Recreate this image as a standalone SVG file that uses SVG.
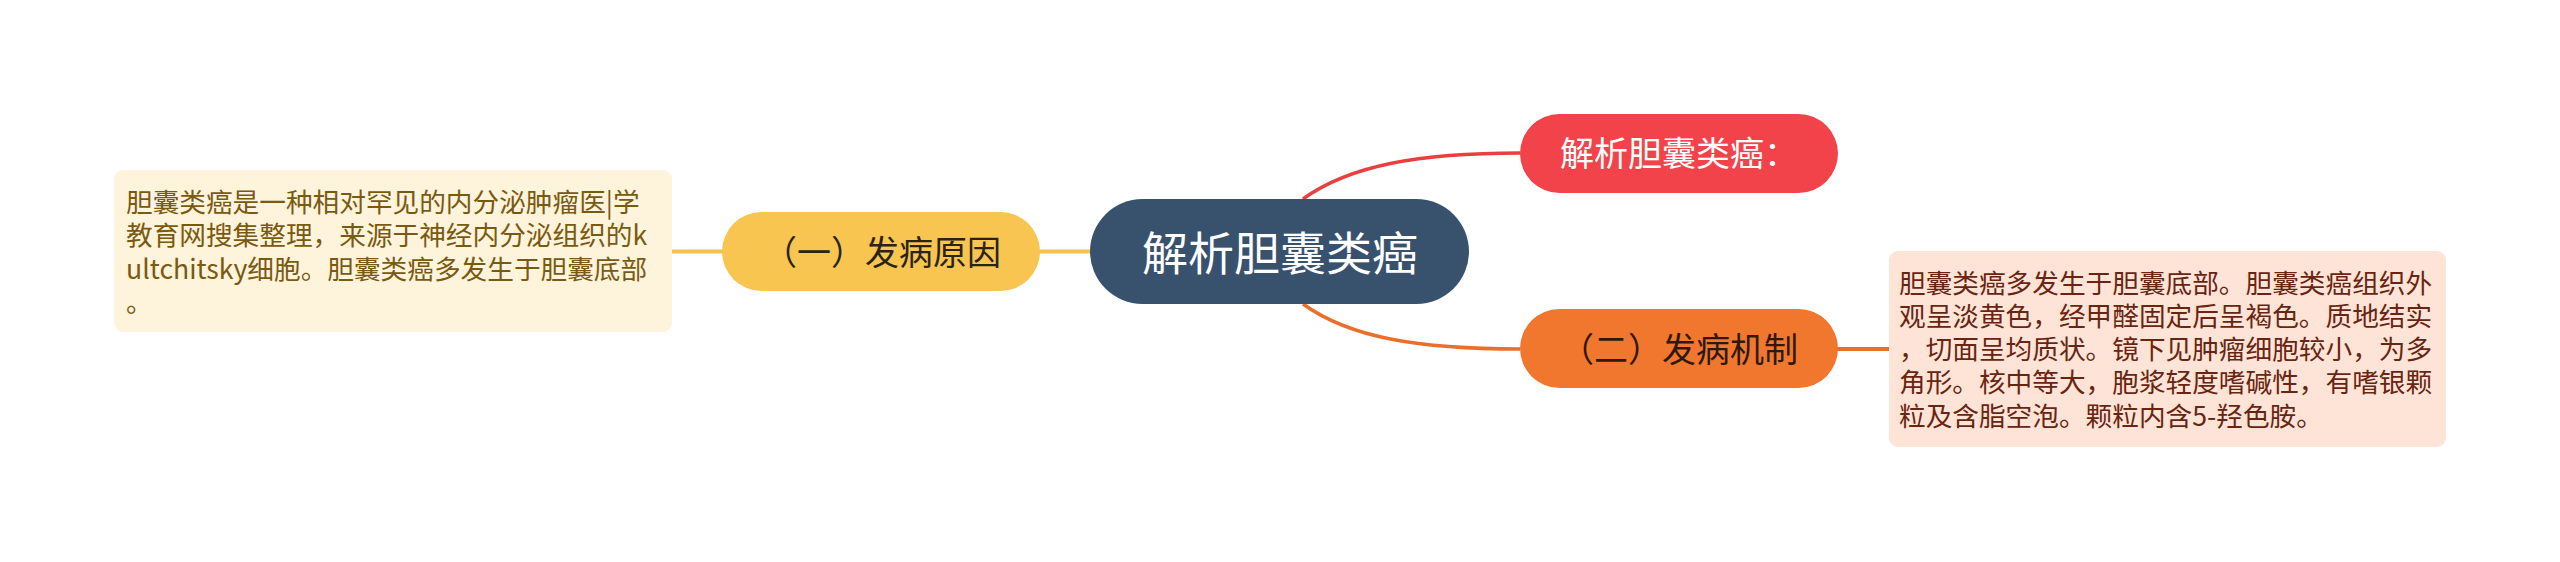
<svg xmlns="http://www.w3.org/2000/svg" width="2560" height="562" viewBox="0 0 2560 562">
<style>
text{font-family:"Noto Sans CJK SC","Microsoft YaHei",sans-serif}
.note{font-size:26.67px}
.lnote{fill:#7a5a10}
.rnote{fill:#6a2412}
.topic{font-size:34px;text-anchor:middle}
.conn{fill:none;stroke-width:3.5}
</style>
<rect width="2560" height="562" fill="#ffffff"/>
<g id="connectors">
<path class="conn" d="M1303,199 C1350,165 1420,153 1520,153" stroke="#e8403f"/>
<path class="conn" d="M1303,304 C1350,338 1420,349 1520,349" stroke="#ea6f2b"/>
<line x1="1040" y1="251.5" x2="1092" y2="251.5" stroke="#f5c24c" stroke-width="4"/>
<line x1="670" y1="251.5" x2="724" y2="251.5" stroke="#f5c24c" stroke-width="4"/>
<line x1="1836" y1="349" x2="1890" y2="349" stroke="#ea6f2b" stroke-width="4"/>
</g>
<g id="central">
<rect x="1090" y="199" width="379" height="105" rx="52.5" fill="#38526e"/>
<text x="1280" y="269.5" font-size="46" text-anchor="middle" fill="#ffffff">解析胆囊类癌</text>
</g>
<g id="node-red">
<rect x="1520" y="114" width="318" height="79" rx="39.5" fill="#f3434a"/>
<text class="topic" x="1679" y="166" fill="#ffffff">解析胆囊类癌：</text>
</g>
<g id="node-yellow">
<rect x="722" y="212" width="318" height="79" rx="39.5" fill="#f7c550"/>
<text class="topic" x="882" y="264.5" fill="#2b2416">（一）发病原因</text>
</g>
<g id="node-orange">
<rect x="1520" y="309" width="318" height="79" rx="39.5" fill="#f1772f"/>
<text class="topic" x="1679" y="361.5" fill="#2e1a0c">（二）发病机制</text>
</g>
<g id="note-left">
<rect x="114" y="170" width="558" height="162" rx="9" fill="#fef3db"/>
<text class="note lnote"><tspan x="126" y="212">胆囊类癌是一种相对罕见的内分泌肿瘤医|学</tspan><tspan x="126" y="245.3">教育网搜集整理，来源于神经内分泌组织的k</tspan><tspan x="126" y="278.6">ultchitsky细胞。胆囊类癌多发生于胆囊底部</tspan><tspan x="126" y="312">。</tspan></text>
</g>
<g id="note-right">
<rect x="1889" y="251" width="557" height="196" rx="9" fill="#fde4d6"/>
<text class="note rnote"><tspan x="1899" y="292.5">胆囊类癌多发生于胆囊底部。胆囊类癌组织外</tspan><tspan x="1899" y="325.8">观呈淡黄色，经甲醛固定后呈褐色。质地结实</tspan><tspan x="1899" y="359.1">，切面呈均质状。镜下见肿瘤细胞较小，为多</tspan><tspan x="1899" y="392.4">角形。核中等大，胞浆轻度嗜碱性，有嗜银颗</tspan><tspan x="1899" y="425.7">粒及含脂空泡。颗粒内含5-羟色胺。</tspan></text>
</g>
</svg>
